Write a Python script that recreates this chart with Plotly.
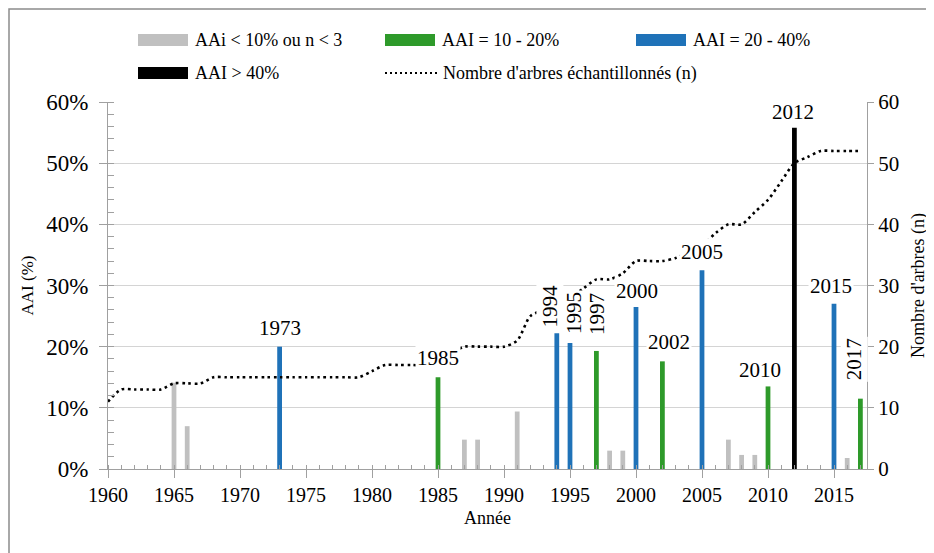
import plotly.graph_objects as go

# -------------------------
# Data
# -------------------------
years_grey = [1965, 1966, 1987, 1988, 1991, 1998, 1999, 2007, 2008, 2009, 2016]
aai_grey = [14.1, 7.0, 4.8, 4.8, 9.4, 3.0, 3.0, 4.8, 2.3, 2.3, 1.8]

years_green = [1985, 1997, 2002, 2010, 2017]
aai_green = [15.0, 19.3, 17.6, 13.5, 11.5]

years_blue = [1973, 1994, 1995, 2000, 2005, 2015]
aai_blue = [20.0, 22.2, 20.6, 26.5, 32.5, 27.0]

years_black = [2012]
aai_black = [55.8]

years_n = list(range(1960, 2018))
n_trees = [11, 13, 13, 13, 13, 14, 14, 14, 15, 15,
           15, 15, 15, 15, 15, 15, 15, 15, 15, 15,
           16, 17, 17, 17, 17, 18, 19, 20, 20, 20,
           20, 21, 25, 26, 27, 28, 29.5, 31, 31, 32,
           34, 34, 34, 34.5, 35.5, 36.5, 38.5, 40, 40, 42,
           44, 47, 50, 51, 52, 52, 52, 52]

# labelled years: (text, x, y, angle)
labels = [("1973", 1973, 23.0, 0), ("1985", 1985, 18.1, 0),
          ("1994", 1993.5, 26.6, -90), ("1995", 1995.3, 25.5, -90),
          ("1997", 1997.0, 25.4, -90), ("2000", 2000.1, 29.1, 0),
          ("2002", 2002.5, 20.7, 0), ("2005", 2005.0, 35.5, 0),
          ("2010", 2009.4, 16.2, 0), ("2012", 2011.9, 58.3, 0),
          ("2015", 2014.8, 30.0, 0), ("2017", 2016.5, 17.9, -90)]

GREY = "#c0c0c0"
GREEN = "#2e9a2a"
BLUE = "#1f72b8"
BLACK = "#000000"
FONT = "Liberation Serif, DejaVu Serif, Times New Roman, serif"

fig = go.Figure()

for xs, ys, col in [(years_grey, aai_grey, GREY), (years_green, aai_green, GREEN),
                    (years_blue, aai_blue, BLUE), (years_black, aai_black, BLACK)]:
    fig.add_trace(go.Bar(x=xs, y=ys, width=0.36, marker=dict(color=col, line=dict(width=0)),
                         showlegend=False))

fig.add_trace(go.Scatter(x=years_n, y=n_trees, yaxis="y2", mode="lines",
                         line=dict(color="black", width=2.6, dash="2.6px,3.6px",
                                   shape="spline", smoothing=0.8),
                         showlegend=False))

# year labels above bars
for txt, x, y, ang in labels:
    fig.add_annotation(x=x, y=y, text=txt, showarrow=False, textangle=ang,
                       font=dict(family=FONT, size=21, color="black"),
                       bgcolor="white", borderpad=1)

# -------------------------
# Hand-made legend (wide swatches like the original)
# page body adds 8px, margins below are reduced by that
# -------------------------
W, H = 759.0, 367.0   # plot area in px


def px(x):
    return (x - 108) / W


def py(y):
    return (469 - y) / H


legend_items = [(138, 40, GREY, "AAi < 10% ou n < 3"),
                (385, 40, GREEN, "AAI = 10 - 20%"),
                (636, 40, BLUE, "AAI = 20 - 40%"),
                (138, 73, BLACK, "AAI > 40%")]
for x0, yc, col, txt in legend_items:
    fig.add_shape(type="rect", xref="paper", yref="paper",
                  x0=px(x0), x1=px(x0 + 50), y0=py(yc + 6), y1=py(yc - 6),
                  fillcolor=col, line=dict(width=0))
    fig.add_annotation(xref="paper", yref="paper", x=px(x0 + 55), y=py(yc),
                       xanchor="left", yanchor="middle", text=txt, showarrow=False,
                       font=dict(family=FONT, size=18, color="black"))
fig.add_shape(type="line", xref="paper", yref="paper",
              x0=px(385), x1=px(437), y0=py(73), y1=py(73),
              line=dict(color="black", width=2.2, dash="2px,3px"))
fig.add_annotation(xref="paper", yref="paper", x=px(441), y=py(73),
                   xanchor="left", yanchor="middle",
                   text="Nombre d'arbres échantillonnés (n)", showarrow=False,
                   font=dict(family=FONT, size=18, color="black"))

# outer frame
fig.add_shape(type="rect", xref="paper", yref="paper", layer="above",
              x0=px(9), x1=px(945), y0=py(565), y1=py(9),
              line=dict(color="#8c8c8c", width=1.5))

AX = "#a0a0a0"
fig.update_layout(
    width=934, height=553,
    margin=dict(l=100, r=75, t=94, b=92, autoexpand=False),
    paper_bgcolor="white", plot_bgcolor="white",
    barmode="overlay",
    font=dict(family=FONT, color="black"),
    xaxis=dict(range=[1960, 2017.5], tick0=1960, dtick=5, showgrid=False,
               showline=True, linecolor=AX, linewidth=1, automargin=False,
               ticks="outside", ticklen=8, tickcolor=AX,
               minor=dict(dtick=1, ticks="inside", ticklen=4, tickcolor=AX),
               tickfont=dict(family=FONT, size=20),
               title=dict(text="Année", font=dict(family=FONT, size=18), standoff=6),
               zeroline=False),
    yaxis=dict(range=[0, 60], dtick=10, ticksuffix="%", showgrid=True,
               gridcolor="#d4d4d4", gridwidth=1, automargin=False,
               showline=True, linecolor=AX, linewidth=1,
               ticks="outside", ticklen=8, tickcolor=AX,
               minor=dict(dtick=2, ticks="inside", ticklen=6, tickcolor=AX, showgrid=False),
               tickfont=dict(family=FONT, size=23), ticklabelstandoff=6,
               title=dict(text="AAI (%)", font=dict(family=FONT, size=17), standoff=8),
               zeroline=False),
    yaxis2=dict(range=[0, 60], dtick=10, overlaying="y", side="right",
                showgrid=False, showline=True, linecolor=AX, linewidth=1,
                automargin=False,
                ticks="outside", ticklen=6, tickcolor=AX,
                tickfont=dict(family=FONT, size=21),
                title=dict(text="Nombre d'arbres (n)", font=dict(family=FONT, size=18),
                           standoff=13),
                zeroline=False),
)

fig.write_html("out.html")
